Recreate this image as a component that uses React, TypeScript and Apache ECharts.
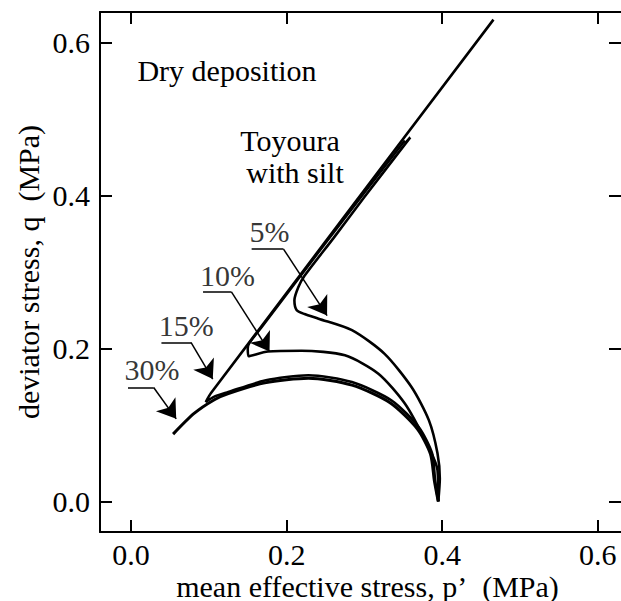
import React, { useEffect, useRef } from "react";
import * as echarts from "echarts";

// stress paths (p', q) in MPa
const path5: number[][] = [
  [0.395, 0.0], [0.397, 0.03], [0.394, 0.063], [0.383, 0.106], [0.361, 0.149],
  [0.326, 0.193], [0.284, 0.224], [0.241, 0.239], [0.223, 0.245], [0.213, 0.250],
  [0.210, 0.263], [0.215, 0.280], [0.223, 0.295], [0.26, 0.344], [0.30, 0.398],
  [0.359, 0.476], [0.352, 0.468],
];
const path10: number[][] = [
  [0.395, 0.0], [0.394, 0.041], [0.378, 0.080], [0.352, 0.128], [0.318, 0.167],
  [0.275, 0.191], [0.219, 0.197], [0.176, 0.196], [0.151, 0.190], [0.150, 0.200],
  [0.152, 0.207], [0.168, 0.228], [0.25, 0.338], [0.352, 0.472],
];
const path15: number[][] = [
  [0.395, 0.0], [0.391, 0.027], [0.387, 0.063], [0.370, 0.097], [0.335, 0.132],
  [0.284, 0.156], [0.228, 0.165], [0.172, 0.158], [0.125, 0.143], [0.107, 0.137],
  [0.096, 0.130], [0.103, 0.142], [0.466, 0.630],
];
const path30: number[][] = [
  [0.395, 0.0], [0.390, 0.027], [0.385, 0.062], [0.368, 0.095], [0.333, 0.129],
  [0.284, 0.152], [0.228, 0.161], [0.172, 0.155], [0.125, 0.141], [0.107, 0.133],
  [0.081, 0.115], [0.054, 0.088],
];

// percentage labels with their leader lines: underline start, underline end, arrow tip
const pctLabels = ["5%", "10%", "15%", "30%"];
const leaderStart: number[][] = [[0.155, 0.330], [0.0925, 0.274], [0.039, 0.208], [-0.004, 0.149]];
const leaderBend: number[][] = [[0.196, 0.330], [0.129, 0.274], [0.077, 0.208], [0.029, 0.149]];
const leaderTip: number[][] = [[0.252, 0.243], [0.178, 0.196], [0.105, 0.160], [0.058, 0.108]];
const labelPos: number[][] = [[0.178, 0.353], [0.124, 0.296], [0.071, 0.230], [0.027, 0.172]];

const tickValues = [0, 0.2, 0.4, 0.6];

const FONT = "Liberation Serif";

export default function App() {
  const ref = useRef<HTMLDivElement>(null);
  useEffect(() => {
    if (!ref.current) return;
    const chart = echarts.init(ref.current, null, { renderer: "svg" });
    const axisLine = { show: true, onZero: false, lineStyle: { color: "#000", width: 2 } };
    const axisCommon = {
      type: "value" as const,
      min: -0.04,
      max: 0.64,
      splitLine: { show: false },
      axisLine,
      axisTick: { show: true, inside: true, length: 12, customValues: tickValues, lineStyle: { color: "#000", width: 2 } },
    };
    const curve = (name: string, data: number[][], width: number) => ({
      name,
      type: "line",
      data,
      showSymbol: false,
      symbol: "none",
      smooth: 0.25,
      lineStyle: { color: "#000", width },
      xAxisIndex: 0,
      yAxisIndex: 0,
    });
    chart.setOption({
      animation: false,
      backgroundColor: "#fff",
      textStyle: { fontFamily: FONT },
      grid: { left: 100, right: 0, top: 12, bottom: 69, containLabel: false, outerBoundsMode: "none" },
      xAxis: [
        {
          ...axisCommon,
          min: -0.04,
          max: 0.63,
          position: "bottom",
          name: "mean effective stress, p\u2019\u00a0\u00a0(MPa)",
          nameLocation: "middle",
          nameGap: 39,
          nameMoveOverlap: false,
          nameTextStyle: { fontFamily: FONT, fontSize: 30, color: "#000", padding: [0, 0, 0, 14] },
          axisLabel: {
            show: true, customValues: tickValues, margin: 7,
            fontFamily: FONT, fontSize: 30, color: "#000",
            formatter: (v: number) => v.toFixed(1),
          },
        },
        {
          ...axisCommon,
          min: -0.04,
          max: 0.63,
          position: "top",
          axisLabel: { show: false },
        },
      ],
      yAxis: [
        {
          ...axisCommon,
          position: "left",
          name: "deviator stress, q\u00a0\u00a0(MPa)",
          nameLocation: "middle",
          nameGap: 57,
          nameRotate: 90,
          nameMoveOverlap: false,
          nameTextStyle: { fontFamily: FONT, fontSize: 30, color: "#000" },
          axisLabel: {
            show: true, customValues: tickValues, margin: 10,
            fontFamily: FONT, fontSize: 30, color: "#000",
            formatter: (v: number) => v.toFixed(1),
          },
        },
        {
          ...axisCommon,
          position: "right",
          axisLine: { ...axisLine, show: false },
          axisLabel: { show: false },
        },
      ],
      series: [
        curve("5%", path5, 2.6),
        curve("10%", path10, 2.6),
        curve("15%", path15, 2.6),
        curve("30%", path30, 3),
        {
          name: "underlines",
          type: "lines",
          coordinateSystem: "cartesian2d",
          xAxisIndex: 0,
          yAxisIndex: 0,
          symbol: ["none", "none"],
          lineStyle: { color: "#000", width: 1.5, opacity: 1 },
          data: pctLabels.map((n, i) => ({ name: n, coords: [leaderStart[i], leaderBend[i]] })),
        },
        {
          name: "arrows",
          type: "lines",
          coordinateSystem: "cartesian2d",
          xAxisIndex: 0,
          yAxisIndex: 0,
          symbol: ["none", "arrow"],
          symbolSize: [12, 18],
          lineStyle: { color: "#000", width: 1.5, opacity: 1 },
          data: pctLabels.map((n, i) => ({ name: n, coords: [leaderBend[i], leaderTip[i]] })),
        },
        {
          name: "labels",
          type: "scatter",
          xAxisIndex: 0,
          yAxisIndex: 0,
          symbolSize: 0,
          silent: true,
          data: pctLabels.map((n, i) => ({ name: n, value: labelPos[i] })),
          label: {
            show: true,
            position: "inside",
            formatter: (p: any) => p.name,
            fontFamily: FONT,
            fontSize: 30,
            color: "#000",
          },
        },
      ],
      graphic: [
        {
          type: "text",
          x: 227, y: 70,
          style: { text: "Dry deposition", fill: "#000", fontFamily: FONT, fontSize: 30, textAlign: "center", textVerticalAlign: "middle" },
        },
        {
          type: "text",
          x: 290, y: 140,
          style: { text: "Toyoura", fill: "#000", fontFamily: FONT, fontSize: 30, textAlign: "center", textVerticalAlign: "middle" },
        },
        {
          type: "text",
          x: 295, y: 172,
          style: { text: "with silt", fill: "#000", fontFamily: FONT, fontSize: 30, textAlign: "center", textVerticalAlign: "middle" },
        },
      ],
    });
    return () => chart.dispose();
  }, []);
  return (
    <div
      ref={ref}
      style={{ position: "absolute", left: 0, top: 0, width: 621, height: 601, background: "#fff" }}
    />
  );
}
